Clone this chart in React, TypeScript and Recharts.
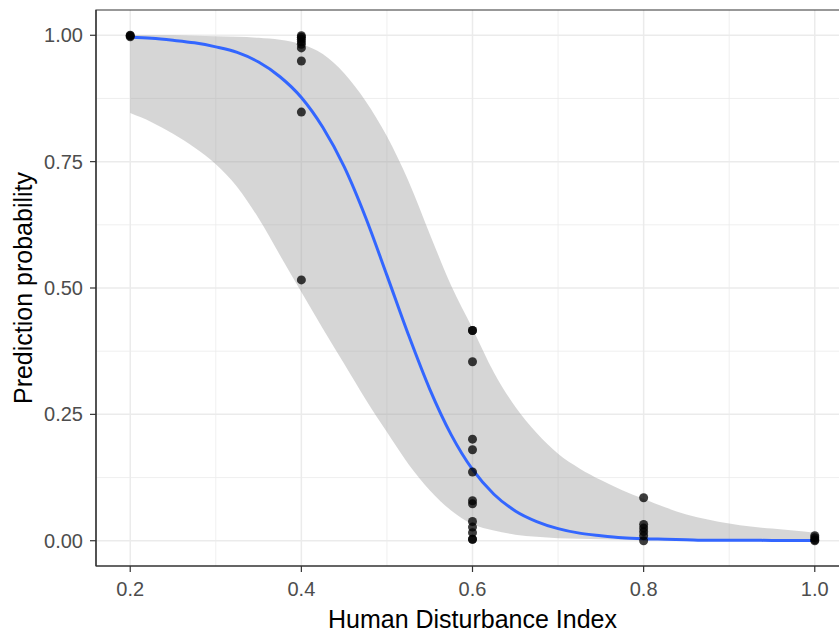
import React from "react";
import {
  ComposedChart,
  Area,
  Line,
  Scatter,
  XAxis,
  YAxis,
  CartesianGrid,
  ReferenceArea,
} from "recharts";

// Fitted curve grid (Human Disturbance Index)
const gridX = [
  0.2, 0.225, 0.25, 0.275, 0.3, 0.325, 0.35, 0.375, 0.4, 0.425, 0.45, 0.475,
  0.5, 0.525, 0.55, 0.575, 0.6, 0.625, 0.65, 0.675, 0.7, 0.725, 0.75, 0.775,
  0.8, 0.825, 0.85, 0.875, 0.9, 0.925, 0.95, 0.975, 1.0,
];
const fitValues = [
  0.996, 0.994, 0.99, 0.985, 0.977, 0.966, 0.947, 0.918, 0.877, 0.818, 0.74,
  0.64, 0.525, 0.408, 0.3, 0.21, 0.141, 0.092, 0.059, 0.038, 0.024, 0.015,
  0.01, 0.006, 0.004, 0.003, 0.002, 0.001, 0.001, 0.001, 0.0005, 0.0005, 0.0003,
];
const upperValues = [
  1.0, 1.0, 1.0, 0.999, 0.998, 0.997, 0.995, 0.991, 0.982, 0.963, 0.925,
  0.87, 0.8, 0.712, 0.607, 0.505, 0.42, 0.333, 0.265, 0.213, 0.172, 0.143,
  0.12, 0.1, 0.083, 0.066, 0.052, 0.042, 0.034, 0.028, 0.024, 0.02, 0.016,
];
const lowerValues = [
  0.846, 0.828, 0.805, 0.778, 0.745, 0.7, 0.638, 0.565, 0.492, 0.42, 0.35,
  0.28, 0.215, 0.152, 0.1, 0.06, 0.033, 0.02, 0.012, 0.008, 0.005, 0.004,
  0.003, 0.002, 0.001, 0.001, 0.0005, 0.0003, 0.0002, 0.0001, 0.0001, 0.0, 0.0,
];

// Observed points
const pointX = [
  0.2, 0.2, 0.2,
  0.4, 0.4, 0.4, 0.4, 0.4, 0.4, 0.4, 0.4, 0.4,
  0.6, 0.6, 0.6, 0.6, 0.6, 0.6, 0.6, 0.6, 0.6, 0.6, 0.6, 0.6, 0.6,
  0.8, 0.8, 0.8, 0.8, 0.8, 0.8,
  1.0, 1.0, 1.0, 1.0,
];
const pointY = [
  1.0, 0.999, 0.997,
  0.999, 0.996, 0.992, 0.987, 0.982, 0.975, 0.949, 0.848, 0.516,
  0.416, 0.416, 0.354, 0.201, 0.18, 0.136, 0.079, 0.073, 0.038, 0.027, 0.016, 0.003, 0.003,
  0.085, 0.032, 0.025, 0.018, 0.01, 0.0,
  0.01, 0.006, 0.002, 0.0,
];

const xTicks = [0.2, 0.4, 0.6, 0.8, 1.0];
const yTicks = [0, 0.25, 0.5, 0.75, 1.0];
const xMinor = [0.3, 0.5, 0.7, 0.9];
const yMinor = [0.125, 0.375, 0.625, 0.875];

const curveData = gridX.map((x, i) => ({
  x,
  fit: fitValues[i],
  band: [lowerValues[i], upperValues[i]],
}));
const pointData = pointX.map((x, i) => ({ x, y: pointY[i] }));

const FONT = "'Liberation Sans', Arial, sans-serif";

const XTitle = (props: any) => {
  const vb = props.viewBox;
  return (
    <text
      x={vb.x + vb.width / 2}
      y={628}
      textAnchor="middle"
      fontSize={25}
      fontFamily={FONT}
      fill="#000"
    >
      Human Disturbance Index
    </text>
  );
};

const YTitle = (props: any) => {
  const vb = props.viewBox;
  const cy = vb.y + vb.height / 2;
  const x = 32;
  return (
    <text
      x={x}
      y={cy}
      transform={`rotate(-90, ${x}, ${cy})`}
      textAnchor="middle"
      fontSize={25}
      fontFamily={FONT}
      fill="#000"
    >
      Prediction probability
    </text>
  );
};

const Dot = (props: any) => {
  const { cx, cy } = props;
  return <circle cx={cx} cy={cy} r={4.5} fill="#000" fillOpacity={0.76} />;
};

export default function App() {
  return (
    <div
      style={{
        position: "absolute",
        left: 0,
        top: 0,
        width: 839,
        height: 633,
        overflow: "hidden",
        background: "#fff",
        fontFamily: FONT,
      }}
    >
      <ComposedChart
        width={852}
        height={633}
        data={curveData}
        margin={{ top: 10, right: 3, bottom: 0, left: 10 }}
      >
        <CartesianGrid
          horizontalValues={yMinor}
          verticalValues={xMinor}
          stroke="#EBEBEB"
          strokeWidth={0.8}
        />
        <CartesianGrid
          horizontalValues={yTicks}
          verticalValues={xTicks}
          stroke="#EBEBEB"
          strokeWidth={1.5}
        />
        <XAxis
          dataKey="x"
          type="number"
          domain={[0.16, 1.04]}
          allowDataOverflow
          ticks={xTicks}
          tickFormatter={(v: number) => v.toFixed(1)}
          height={67}
          tickSize={6}
          tickMargin={10}
          tickLine={{ stroke: "#333333", strokeWidth: 1.2 }}
          axisLine={{ stroke: "#333333", strokeWidth: 1.2 }}
          tick={{ fill: "#4D4D4D", fontSize: 20, fontFamily: FONT }}
          label={<XTitle />}
        />
        <YAxis
          type="number"
          domain={[-0.05, 1.05]}
          allowDataOverflow
          ticks={yTicks}
          tickFormatter={(v: number) => v.toFixed(2)}
          width={86}
          tickSize={6}
          tickMargin={7}
          tickLine={{ stroke: "#333333", strokeWidth: 1.2 }}
          axisLine={{ stroke: "#333333", strokeWidth: 1.2 }}
          tick={{ fill: "#4D4D4D", fontSize: 20, fontFamily: FONT }}
          label={<YTitle />}
        />
        <Area
          dataKey="band"
          type="monotone"
          stroke="none"
          fill="#999999"
          fillOpacity={0.4}
          isAnimationActive={false}
        />
        <Line
          dataKey="fit"
          type="monotone"
          stroke="#3366FF"
          strokeWidth={3}
          dot={false}
          activeDot={false}
          isAnimationActive={false}
        />
        <Scatter
          data={pointData}
          dataKey="y"
          shape={<Dot />}
          isAnimationActive={false}
        />
        <ReferenceArea
          x1={0.16}
          x2={1.04}
          y1={-0.05}
          y2={1.05}
          fill="none"
          stroke="#333333"
          strokeWidth={1.2}
          ifOverflow="visible"
        />
      </ComposedChart>
    </div>
  );
}
